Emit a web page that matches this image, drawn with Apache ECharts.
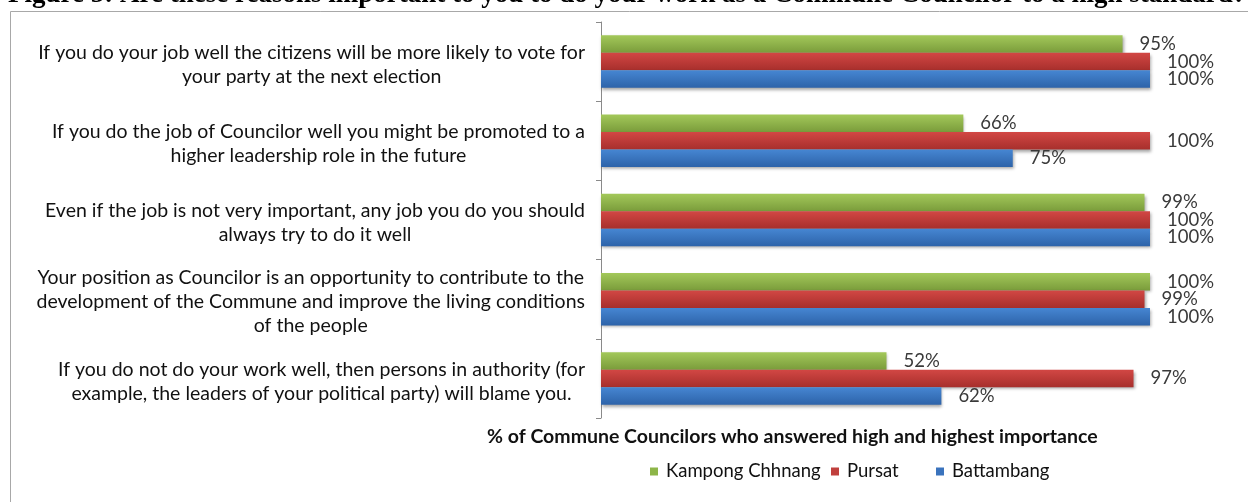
<!DOCTYPE html>
<html>
<head>
<meta charset="utf-8">
<script src="https://cdn.jsdelivr.net/npm/echarts@6/dist/echarts.min.js"></script>
<style>
  html, body { margin: 0; padding: 0; background: #fff; }
  #chart { width: 1248px; height: 502px; }
</style>
</head>
<body>
<div id="chart"></div>
<script>
// Reasons asked about (top to bottom)
const categories = [
  "If you do your job well the citizens will be more likely to vote for\nyour party at the next election",
  "If you do the job of Councilor well you might be promoted to a\nhigher leadership role in the future",
  "Even if the job is not very important, any job you do you should\nalways try to do it well",
  "Your position as Councilor is an opportunity to contribute to the\ndevelopment of the Commune and improve the living conditions\nof the people",
  "If you do not do your work well, then persons in authority (for\nexample, the leaders of your political party) will blame you."
];

// Share of councillors answering high / highest importance, by province (%)
const kampongChhnang = [95, 66, 99, 100, 52];
const pursat         = [100, 100, 100, 99, 97];
const battambang     = [100, 75, 100, 100, 62];

const seriesNames = ["Kampong Chhnang", "Pursat", "Battambang"];

const titleText = "Figure 5: Are these reasons important to you to do your work as a Commune Councilor to a high standard?";
const axisTitle = "% of Commune Councilors who answered high and highest importance";

const FONT = "Lato, 'Open Sans', sans-serif";
const FS = 19.5;

function shade(top, bottom) {
  return new echarts.graphic.LinearGradient(0, 0, 0, 1, [
    { offset: 0, color: top },
    { offset: 1, color: bottom }
  ]);
}

const palette = [
  { fill: shade('#a3c85a', '#7a9c3b'), legend: '#8db548' },
  { fill: shade('#d24744', '#a72f2c'), legend: '#c0403d' },
  { fill: shade('#4686d2', '#2d63a9'), legend: '#3a73bd' }
];

function barSeries(name, data, idx) {
  return {
    name: name,
    type: 'bar',
    data: data,
    barWidth: 17.5,
    barGap: '0%',
    itemStyle: {
      color: palette[idx].fill,
      shadowColor: 'rgba(0,0,0,0.35)',
      shadowBlur: 3,
      shadowOffsetX: 1,
      shadowOffsetY: 2
    },
    label: {
      show: true,
      position: 'right',
      distance: 17,
      formatter: '{c}%',
      fontFamily: FONT,
      fontSize: 18.5,
      color: '#3a3a3a'
    },
    emphasis: { disabled: true }
  };
}

const chart = echarts.init(document.getElementById('chart'), null, { renderer: 'canvas' });

const legendPos = [650, 831, 936];

chart.setOption({
  animation: false,
  backgroundColor: '#fff',
  grid: { left: 601, top: 22, width: 549, height: 396, containLabel: false },
  xAxis: {
    type: 'value',
    min: 0,
    max: 100,
    show: false
  },
  yAxis: {
    type: 'category',
    data: categories,
    inverse: true,
    axisLine: { show: true, lineStyle: { color: '#8a8a8a', width: 1 } },
    axisTick: { show: true, length: 5, lineStyle: { color: '#8a8a8a' } },
    axisLabel: {
      margin: 16,
      align: 'right',
      padding: [6, 0, 0, 0],
      formatter: function (v) {
        return v.split('\n').map(function (l) { return '{c|' + l + '}'; }).join('\n');
      },
      rich: {
        c: { align: 'center', fontFamily: FONT, fontSize: FS, lineHeight: 24, color: '#111' }
      }
    },
    splitLine: { show: false }
  },
  legend: seriesNames.map(function (n, i) {
    return {
      data: [{ name: n, itemStyle: { color: palette[i].legend } }],
      left: legendPos[i],
      top: 462,
      padding: 0,
      icon: 'rect',
      itemWidth: 8,
      itemHeight: 8,
      selectedMode: false,
      textStyle: { fontFamily: FONT, fontSize: 18.5, color: '#111', padding: [0, 0, 0, 3] }
    };
  }),
  graphic: [
    {
      type: 'rect',
      silent: true,
      shape: { x: 10.5, y: 11.5, width: 1300, height: 600 },
      style: { fill: null, stroke: '#a8a8a8', lineWidth: 1 }
    },
    {
      type: 'text',
      silent: true,
      left: 8,
      top: -18,
      style: {
        text: titleText,
        font: "bold 27px 'Liberation Serif', 'Times New Roman', serif",
        fill: '#000'
      }
    },
    {
      type: 'text',
      silent: true,
      left: 487,
      top: 427,
      style: {
        text: axisTitle,
        font: "bold " + FS + "px " + FONT,
        fill: '#111'
      }
    }
  ],
  series: [
    barSeries(seriesNames[0], kampongChhnang, 0),
    barSeries(seriesNames[1], pursat, 1),
    barSeries(seriesNames[2], battambang, 2)
  ]
});
</script>
</body>
</html>
